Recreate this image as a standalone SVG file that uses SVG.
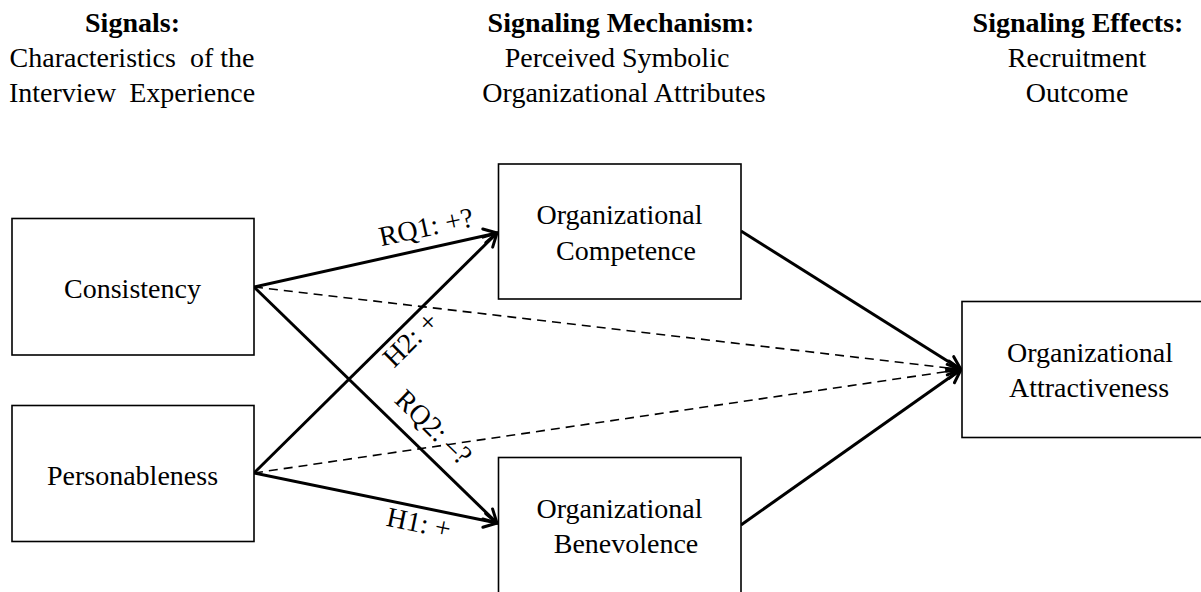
<svg xmlns="http://www.w3.org/2000/svg" width="1201" height="592" viewBox="0 0 1201 592">
<style>
text{font-family:"Liberation Serif","Times New Roman",serif;font-size:28px;fill:#000;text-anchor:middle}
.b{font-weight:bold}
.box{fill:#fff;stroke:#000;stroke-width:1.6}
.s{fill:none;stroke:#000;stroke-width:3}
.d{fill:none;stroke:#000;stroke-width:1.6;stroke-dasharray:9 6}
</style>
<defs>
<marker id="ah" markerUnits="userSpaceOnUse" markerWidth="20" markerHeight="20" viewBox="-16 -10 20 20" refX="0" refY="0" orient="auto">
<path d="M-13,-7 L0,0 L-13,7" fill="none" stroke="#000" stroke-width="3" stroke-linejoin="miter" stroke-linecap="round"/>
</marker>
</defs>
<g id="headers">
<text class="b" x="132.5" y="32">Signals:</text>
<text x="132" y="67">Characteristics<tspan dx="14">of the</tspan></text>
<text x="132" y="102">Interview<tspan dx="13">Experience</tspan></text>
<text class="b" x="621" y="32">Signaling Mechanism:</text>
<text x="617" y="67">Perceived Symbolic</text>
<text x="624" y="102">Organizational Attributes</text>
<text class="b" x="1078" y="32">Signaling Effects:</text>
<text x="1077" y="67">Recruitment</text>
<text x="1077" y="102">Outcome</text>
</g>
<g id="connectors">
<line class="d" x1="254" y1="287" x2="961" y2="369.5" marker-end="url(#ah)"/>
<line class="d" x1="254" y1="473" x2="961" y2="369.5" marker-end="url(#ah)"/>
<line class="s" x1="254" y1="287" x2="497" y2="233" marker-end="url(#ah)"/>
<line class="s" x1="254" y1="287" x2="497" y2="523" marker-end="url(#ah)"/>
<line class="s" x1="254" y1="473" x2="497" y2="233" marker-end="url(#ah)"/>
<line class="s" x1="254" y1="473" x2="497" y2="523" marker-end="url(#ah)"/>
<line class="s" x1="741" y1="231" x2="961" y2="369.5" marker-end="url(#ah)"/>
<line class="s" x1="741" y1="525" x2="961" y2="369.5" marker-end="url(#ah)"/>
<text transform="translate(428,236) rotate(-12.3)">RQ1: +?</text>
<text transform="translate(417,346) rotate(-44.5)">H2: +</text>
<text transform="translate(427,434) rotate(44)">RQ2: –?</text>
<text transform="translate(417,532) rotate(11.6)">H1: +</text>
</g>
<g id="consistency">
<rect class="box" x="12" y="218.5" width="242" height="136.5"/>
<text x="132.5" y="298">Consistency</text>
</g>
<g id="personableness">
<rect class="box" x="12" y="405.5" width="242" height="136"/>
<text x="132.5" y="485">Personableness</text>
</g>
<g id="competence">
<rect class="box" x="498.5" y="164" width="242.5" height="135"/>
<text x="619.5" y="224">Organizational</text>
<text x="626" y="260">Competence</text>
</g>
<g id="benevolence">
<rect class="box" x="498.5" y="457.5" width="242.5" height="140"/>
<text x="619.5" y="518">Organizational</text>
<text x="626" y="553">Benevolence</text>
</g>
<g id="attractiveness">
<rect class="box" x="962" y="301.5" width="250" height="136"/>
<text x="1090" y="362">Organizational</text>
<text x="1089" y="397">Attractiveness</text>
</g>
</svg>
